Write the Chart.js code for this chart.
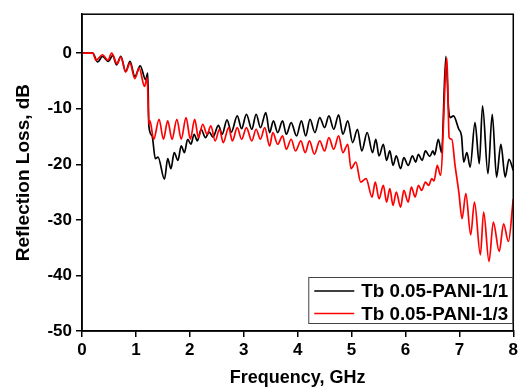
<!DOCTYPE html>
<html>
<head>
<meta charset="utf-8">
<script src="https://cdn.jsdelivr.net/npm/chart.js@4.4.1/dist/chart.umd.min.js"></script>
<style>
  body { margin: 0; background: #fff; }
  #wrap { width: 521px; height: 390px; }
</style>
</head>
<body>
<div id="wrap"><canvas id="rlChart" width="521" height="390"></canvas></div>
<script>
"use strict"

// Tb 0.05-PANI-1/1 (black)
const freq11 = [0, 0.2, 0.29, 0.38, 0.49, 0.57, 0.64, 0.72, 0.81, 0.89, 0.98, 1.08, 1.18, 1.22, 1.24, 1.30, 1.36, 1.41, 1.53, 1.59,
  1.65, 1.71, 1.78, 1.84, 1.90, 1.96, 2.02, 2.08, 2.14, 2.21, 2.29, 2.36, 2.43, 2.53, 2.60, 2.69, 2.77, 2.88, 2.96, 3.05,
  3.15, 3.23, 3.31, 3.41, 3.48, 3.55, 3.63, 3.72, 3.79, 3.88, 3.98, 4.07, 4.15, 4.23, 4.32, 4.41, 4.50, 4.58, 4.67, 4.76,
  4.84, 4.93, 5.02, 5.11, 5.19, 5.29, 5.39, 5.45, 5.51, 5.59, 5.65, 5.71, 5.77, 5.83, 5.91, 5.97, 6.05, 6.13, 6.19, 6.24,
  6.31, 6.37, 6.45, 6.51, 6.54, 6.61, 6.67, 6.75, 6.80, 6.83, 6.89, 6.99, 7.04, 7.08, 7.14, 7.20, 7.29, 7.37, 7.43, 7.53,
  7.61, 7.69, 7.77, 7.85, 7.92, 8.0];
const rl11 = [0, 0, -1.6, -0.6, -1.5, -0.4, -2.1, -0.6, -3.3, -1.5, -4.2, -2.3, -4.8, -3.6, -13.1, -14.9, -19.0, -18.7, -22.7, -19.0,
  -20.8, -17.9, -19.3, -16.7, -17.9, -15.5, -16.4, -14.6, -15.8, -13.7, -15.2, -14.2, -15.1, -13.0, -14.6, -12.0, -14.2, -11.3, -13.6, -11.0,
  -13.7, -11.0, -13.4, -10.7, -14.3, -12.2, -14.3, -12.2, -14.6, -12.5, -14.9, -12.2, -14.9, -11.9, -14.3, -11.6, -13.4, -11.3, -13.7, -11.1,
  -14.6, -12.2, -16.1, -13.7, -17.6, -14.3, -17.9, -15.5, -18.5, -16.4, -19.3, -17.6, -20.2, -18.5, -20.8, -18.8, -20.2, -18.5, -19.6, -18.2,
  -19.3, -17.6, -18.6, -17.6, -18.3, -15.5, -17.9, -0.6, -10.1, -11.6, -11.3, -13.7, -14.9, -19.6, -17.9, -20.5, -12.5, -19.9, -9.5, -21.7,
  -11.0, -22.3, -16.4, -22.3, -19.1, -21.1];

// Tb 0.05-PANI-1/3 (red)
const freq13 = [0, 0.2, 0.26, 0.38, 0.48, 0.55, 0.65, 0.72, 0.81, 0.89, 0.98, 1.06, 1.16, 1.21, 1.24, 1.26, 1.33, 1.43, 1.51, 1.59,
  1.67, 1.76, 1.84, 1.93, 2.01, 2.09, 2.16, 2.24, 2.32, 2.39, 2.47, 2.55, 2.62, 2.72, 2.79, 2.88, 2.96, 3.05, 3.15, 3.23,
  3.31, 3.39, 3.48, 3.54, 3.63, 3.72, 3.79, 3.88, 3.96, 4.06, 4.14, 4.22, 4.31, 4.41, 4.50, 4.58, 4.67, 4.76, 4.84, 4.93,
  4.99, 5.08, 5.17, 5.27, 5.38, 5.44, 5.51, 5.59, 5.65, 5.71, 5.77, 5.83, 5.91, 5.97, 6.05, 6.11, 6.18, 6.24, 6.30, 6.37,
  6.43, 6.49, 6.53, 6.59, 6.65, 6.77, 6.81, 6.86, 6.92, 6.99, 7.05, 7.12, 7.21, 7.28, 7.39, 7.45, 7.55, 7.63, 7.74, 7.82,
  7.91, 8.0];
const rl13 = [0, 0, -1.3, -0.3, -1.3, 0, -1.9, -0.7, -3.4, -1.8, -4.6, -2.7, -6.0, -4.4, -12.8, -12.2, -15.5, -11.9, -15.5, -12.2,
  -15.5, -11.9, -15.5, -11.6, -15.5, -11.9, -15.2, -12.8, -14.6, -13.1, -15.8, -13.7, -16.1, -13.4, -15.8, -13.4, -15.5, -13.4, -15.8, -13.7,
  -15.5, -13.4, -16.7, -14.3, -16.4, -14.9, -17.3, -15.5, -17.6, -15.8, -17.9, -15.8, -18.2, -15.8, -17.6, -15.2, -17.3, -14.9, -17.9, -16.4,
  -20.8, -19.6, -23.2, -22.6, -25.9, -23.2, -26.2, -23.8, -26.8, -24.4, -27.4, -25.0, -27.7, -24.7, -26.8, -24.1, -25.9, -23.8, -24.7, -23.2,
  -23.8, -22.6, -23.0, -20.2, -22.0, -0.9, -15.2, -15.5, -20.2, -25.0, -29.8, -25.3, -32.7, -26.8, -36.3, -28.6, -37.5, -30.4, -35.7, -30.7,
  -33.9, -26.2];

const seriesLabels = ["Tb 0.05-PANI-1/1", "Tb 0.05-PANI-1/3"];
const seriesColors = ["#000000", "#ff0000"];
const xTicks = [0, 1, 2, 3, 4, 5, 6, 7, 8];
const yTicks = [-50, -40, -30, -20, -10, 0];

const FONT = "'Liberation Sans', Arial, sans-serif";

const toPoints = (xs, ys) => xs.map((x, i) => ({ x: x, y: ys[i] }));

// box around the plot + legend in the lower right corner
const frameLegend = {
  id: "frameLegend",
  afterDraw(chart) {
    const ctx = chart.ctx;
    const a = chart.chartArea;
    ctx.save();
    ctx.strokeStyle = "#000";
    ctx.lineWidth = 1.5;
    ctx.strokeRect(a.left, a.top, a.right - a.left, a.bottom - a.top);

    const boxW = 204, boxH = 46;
    const bx = a.right - boxW - 1;
    const by = a.bottom - boxH - 8;
    ctx.fillStyle = "#fff";
    ctx.fillRect(bx, by, boxW, boxH);
    ctx.strokeStyle = "#444";
    ctx.lineWidth = 1;
    ctx.strokeRect(bx + 0.5, by + 0.5, boxW, boxH);

    ctx.font = "bold 18.8px " + FONT;
    ctx.textBaseline = "middle";
    ctx.textAlign = "left";
    seriesLabels.forEach((lab, i) => {
      const yy = by + 14 + i * 22.5;
      ctx.strokeStyle = seriesColors[i];
      ctx.lineWidth = 1.6;
      ctx.beginPath();
      ctx.moveTo(bx + 6, yy);
      ctx.lineTo(bx + 46, yy);
      ctx.stroke();
      ctx.fillStyle = "#000";
      ctx.fillText(lab, bx + 53, yy + 1);
    });
    ctx.restore();
  }
};

const canvas = document.querySelector("#rlChart");

new Chart(canvas, {
  type: "line",
  data: {
    datasets: [
      {
        label: seriesLabels[0],
        data: toPoints(freq11, rl11),
        borderColor: seriesColors[0],
        borderWidth: 1.7,
        pointRadius: 0,
        cubicInterpolationMode: "monotone",
        order: 2,
      },
      {
        label: seriesLabels[1],
        data: toPoints(freq13, rl13),
        borderColor: seriesColors[1],
        borderWidth: 1.7,
        pointRadius: 0,
        cubicInterpolationMode: "monotone",
        order: 1,
      },
    ],
  },
  options: {
    responsive: false,
    animation: false,
    layout: { padding: { top: 11, right: 5, left: 0, bottom: 0 } },
    plugins: {
      legend: { display: false },
      tooltip: { enabled: false },
    },
    scales: {
      x: {
        type: "linear",
        min: 0,
        max: 8,
        afterBuildTicks: (s) => { s.ticks = xTicks.map((v) => ({ value: v })); },
        afterFit: (s) => { s.height = 59; },
        ticks: { color: "#000", font: { family: FONT, size: 17, weight: "bold" }, padding: 3 },
        grid: { drawOnChartArea: false, color: "#000", lineWidth: 1.5, tickLength: 6 },
        border: { color: "#000", width: 1.5 },
        title: {
          display: true,
          text: "Frequency, GHz",
          color: "#000",
          font: { family: FONT, size: 18, weight: "bold" },
          padding: { top: 0, bottom: 1 },
        },
      },
      y: {
        type: "linear",
        min: -50,
        max: 7,
        afterBuildTicks: (s) => { s.ticks = yTicks.map((v) => ({ value: v })); },
        afterFit: (s) => { s.width = 82; },
        ticks: { color: "#000", font: { family: FONT, size: 17, weight: "bold" }, padding: 4 },
        grid: { drawOnChartArea: false, color: "#000", lineWidth: 1.5, tickLength: 6 },
        border: { color: "#000", width: 1.5 },
        title: {
          display: true,
          text: "Reflection Loss, dB",
          color: "#000",
          font: { family: FONT, size: 19, weight: "bold" },
          padding: { top: 12, bottom: 0 },
        },
      },
    },
  },
  plugins: [frameLegend],
});
</script>
</body>
</html>
